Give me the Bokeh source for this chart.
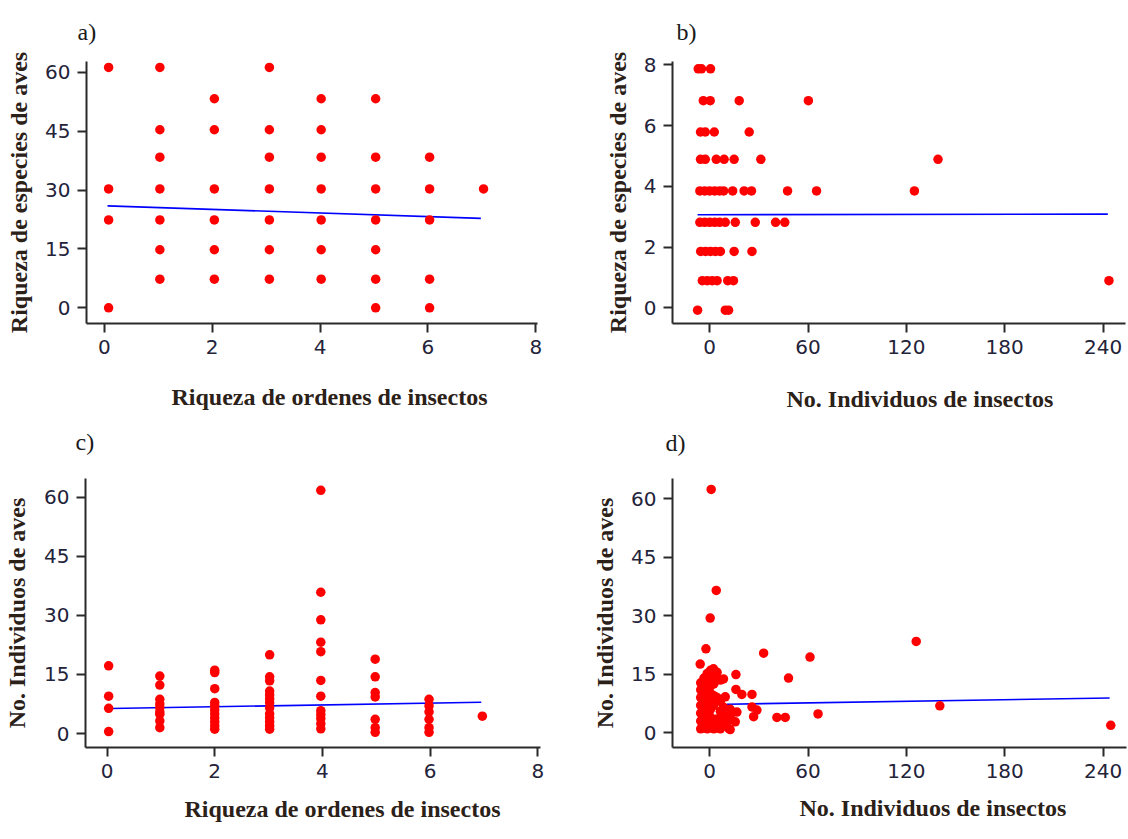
from bokeh.plotting import figure
from bokeh.layouts import column, row
from bokeh.models import Range1d, FixedTicker, Title
from bokeh.embed import file_html
from bokeh.resources import INLINE

# ---------------- data ----------------
# a) Riqueza de especies de aves vs Riqueza de ordenes de insectos
a_x = [0.08, 0.08, 0.08, 0.08,
       1.03, 1.03, 1.03, 1.03, 1.03, 1.03, 1.03,
       2.04, 2.04, 2.04, 2.04, 2.04, 2.04,
       3.06, 3.06, 3.06, 3.06, 3.06, 3.06, 3.06,
       4.02, 4.02, 4.02, 4.02, 4.02, 4.02, 4.02,
       5.03, 5.03, 5.03, 5.03, 5.03, 5.03, 5.03,
       6.03, 6.03, 6.03, 6.03, 6.03,
       7.03]
a_y = [61.3, 30.3, 22.4, 0.0,
       61.3, 45.4, 38.4, 30.3, 22.4, 14.8, 7.3,
       53.3, 45.4, 30.3, 22.4, 14.8, 7.3,
       61.3, 45.4, 38.4, 30.3, 22.4, 14.8, 7.3,
       53.3, 45.4, 38.4, 30.3, 22.4, 14.8, 7.3,
       53.3, 38.4, 30.3, 22.4, 14.8, 7.3, 0.0,
       38.4, 30.3, 22.4, 7.3, 0.0,
       30.3]
a_fit_x = [0.06, 6.98]
a_fit_y = [26.0, 22.8]

# b) Riqueza de especies de aves vs No. Individuos de insectos
b_x = [-7.0, -5.0, 0.5,
       -3.9, 0.3, 18.0, 60.2,
       -5.6, -2.7, 2.8, 24.1,
       -5.6, -2.7, 4.0, 8.8, 14.9, 31.2, 139.3,
       -6.0, -3.0, 0.0, 3.0, 6.0, 8.5, 14.0, 21.0, 25.5, 47.5, 65.2, 124.9,
       -6.0, -3.0, 0.0, 3.0, 6.0, 9.5, 15.6, 27.8, 40.2, 45.8,
       -5.5, -2.5, 0.5, 3.5, 6.5, 14.9, 25.8,
       -4.5, -1.5, 1.5, 4.5, 11.0, 14.5, 243.6,
       -7.4, 9.5, 11.5]
b_y = [7.87, 7.87, 7.87,
       6.82, 6.82, 6.82, 6.82,
       5.79, 5.79, 5.79, 5.79,
       4.89, 4.89, 4.89, 4.89, 4.89, 4.89, 4.89,
       3.85, 3.85, 3.85, 3.85, 3.85, 3.85, 3.85, 3.85, 3.85, 3.85, 3.85, 3.85,
       2.82, 2.82, 2.82, 2.82, 2.82, 2.82, 2.82, 2.82, 2.82, 2.82,
       1.86, 1.86, 1.86, 1.86, 1.86, 1.86, 1.86,
       0.90, 0.90, 0.90, 0.90, 0.90, 0.90, 0.90,
       -0.07, -0.07, -0.07]
b_fit_x = [-7.4, 242.9]
b_fit_y = [3.07, 3.09]

# c) No. Individuos de aves vs Riqueza de ordenes de insectos
c_x = [0.03, 0.03, 0.03, 0.03,
       0.98, 0.98, 0.98, 0.98, 0.98, 0.98, 0.98, 0.98, 0.98,
       2.0, 2.0, 2.0, 2.0, 2.0, 2.0, 2.0, 2.0, 2.0, 2.0, 2.0,
       3.02, 3.02, 3.02, 3.02, 3.02, 3.02, 3.02, 3.02, 3.02, 3.02, 3.02, 3.02, 3.02,
       3.97, 3.97, 3.97, 3.97, 3.97, 3.97, 3.97, 3.97, 3.97, 3.97, 3.97, 3.97,
       4.98, 4.98, 4.98, 4.98, 4.98, 4.98, 4.98,
       5.98, 5.98, 5.98, 5.98, 5.98, 5.98,
       6.97]
c_y = [17.2, 9.5, 6.4, 0.5,
       14.6, 12.3, 8.7, 7.5, 6.6, 5.5, 4.9, 3.2, 1.5,
       16.1, 15.5, 11.4, 7.9, 7.0, 6.0, 5.0, 4.0, 3.0, 2.0, 1.1,
       20.0, 14.4, 13.4, 10.8, 9.8, 8.8, 7.8, 6.5, 5.0, 4.0, 3.0, 2.0, 1.1,
       61.8, 35.9, 28.9, 23.2, 20.8, 13.5, 9.5, 5.8, 4.8, 3.8, 2.5, 1.2,
       18.9, 14.4, 10.4, 9.3, 3.6, 1.5, 0.3,
       8.7, 7.0, 5.5, 3.6, 1.5, 0.3,
       4.4]
c_fit_x = [0.06, 6.95]
c_fit_y = [6.35, 7.95]

# d) No. Individuos de aves vs No. Individuos de insectos
d_x = [0.9, 4.0, 0.3, -2.3, -5.8, 2.3, 8.4, 16.0, 32.9, 16.0, 19.6, 25.8, 25.8,
       28.8, 26.8, 16.6, 15.6, 11.5, 10.5, 9.5, 41.0, 46.1, 48.1, 61.2, 66.1,
       126.0, 140.4, 244.7,
       -5.5, -5.5, -5.5, -5.5, -5.5, -5.5, -5.5,
       -3.5, -3.5, -3.5, -3.5, -3.5, -3.5, -3.5,
       -1.5, -1.5, -1.5, -1.5, -1.5, -1.5, -1.5, -1.5,
       0.5, 0.5, 0.5, 0.5, 0.5, 0.5, 0.5, 0.5,
       2.5, 2.5, 2.5, 2.5, 2.5, 2.5,
       4.5, 4.5, 4.5, 4.5,
       6.5, 6.5, 6.5, 6.5, 6.5,
       8.5, 8.5, 8.5,
       12.5, 12.5, 12.5]
d_y = [62.4, 36.5, 29.4, 21.5, 17.6, 16.4, 13.8, 14.9, 20.4, 11.1, 9.8, 9.8, 6.6,
       5.8, 4.1, 5.3, 2.8, 1.1, 2.8, 9.2, 3.9, 3.9, 14.0, 19.4, 4.8,
       23.4, 6.9, 1.9,
       1.0, 3.0, 5.0, 7.0, 9.0, 11.0, 12.8,
       2.0, 4.0, 6.0, 8.0, 10.0, 12.0, 14.0,
       1.0, 3.0, 5.0, 7.0, 9.0, 11.0, 13.0, 15.2,
       2.0, 4.0, 6.0, 8.0, 10.0, 12.0, 14.0, 16.0,
       1.0, 3.0, 7.0, 9.5, 12.5, 14.5,
       1.5, 3.5, 9.0, 15.5,
       1.0, 3.0, 5.5, 8.0, 13.5,
       2.0, 4.5, 6.5,
       0.8, 4.0, 6.0]
d_fit_x = [10.5, 244.0]
d_fit_y = [7.3, 8.9]

ticks_rich = [0, 2, 4, 6, 8]
ticks_ind = [0, 60, 120, 180, 240]
ticks_60 = [0, 15, 30, 45, 60]
ticks_8 = [0, 2, 4, 6, 8]

lab_rich_ord = "Riqueza de ordenes de insectos"
lab_ind_ins = "No. Individuos de insectos"
lab_rich_aves = "Riqueza de especies de aves"
lab_ind_aves = "No. Individuos de aves"

SERIF = "Liberation Serif"
SANS = "DejaVu Sans"
AXC = "#2a2a2a"
TITC = "#2b2118"


def letter_title(text, offset, standoff, valign):
    return Title(text=text, align="left", offset=offset, standoff=standoff,
                 vertical_align=valign, text_font=SERIF, text_font_style="normal",
                 text_font_size="24px", text_color="#1a1a1a")


def panel(w, h, bl, br, bt, bb, xr, yr, xt, yt, xl, yl, xs, ys, fx, fy,
          xl_off, xl_stand, yl_stand, top_letter=None, below_letter=None):
    p = figure(width=w, height=h, output_backend="svg", toolbar_location=None,
               x_range=Range1d(*xr), y_range=Range1d(*yr),
               min_border_left=bl, min_border_right=br,
               min_border_top=bt, min_border_bottom=bb)
    p.outline_line_color = None
    p.xgrid.visible = False
    p.ygrid.visible = False
    p.background_fill_color = "white"
    p.border_fill_color = "white"

    for ax, ticks in ((p.xaxis[0], xt), (p.yaxis[0], yt)):
        ax.ticker = FixedTicker(ticks=ticks)
        ax.minor_tick_line_color = None
        ax.major_tick_in = 0
        ax.major_tick_out = 9
        ax.major_tick_line_width = 2
        ax.major_tick_line_color = AXC
        ax.axis_line_width = 2
        ax.axis_line_color = AXC
        ax.major_label_text_font = SANS
        ax.major_label_text_font_size = "20px"
        ax.major_label_text_color = "#23233a"
        ax.major_label_standoff = 7

    ya = p.yaxis[0]
    ya.axis_label = yl
    ya.axis_label_text_font = SERIF
    ya.axis_label_text_font_style = "bold"
    ya.axis_label_text_font_size = "24px"
    ya.axis_label_text_color = TITC
    ya.axis_label_standoff = yl_stand

    if top_letter is not None:
        p.add_layout(letter_title(*top_letter, "bottom"), "above")

    xtitle = Title(text=xl, align="left", offset=xl_off, standoff=xl_stand,
                   vertical_align="top", text_font=SERIF, text_font_style="bold",
                   text_font_size="24px", text_color=TITC)
    p.add_layout(xtitle, "below")

    if below_letter is not None:
        p.add_layout(letter_title(*below_letter, "top"), "below")

    p.line(fx, fy, line_color="#0000ff", line_width=1.6)
    p.scatter(xs, ys, size=9.5, fill_color="#ff0000", line_color=None)
    return p


pa = panel(560, 475, 86, 23, 60, 152, (-0.33, 8.03), (-4.0, 62.8),
           ticks_rich, ticks_60, lab_rich_ord, lab_rich_aves,
           a_x, a_y, a_fit_x, a_fit_y, 85, 55, 10,
           top_letter=("a)", -9, 33), below_letter=("c)", -11, -22))
pb = panel(568, 475, 112, 3, 60, 152, (-22.7, 253.7), (-0.51, 8.11),
           ticks_ind, ticks_8, lab_ind_ins, lab_rich_aves,
           b_x, b_y, b_fit_x, b_fit_y, 114, 58, 10,
           top_letter=("b)", 4, 33), below_letter=("d)", -7, -26))
pc = panel(560, 364, 85, 20, 2, 92, (-0.40, 8.05), (-3.55, 64.8),
           ticks_rich, ticks_60, lab_rich_ord, lab_ind_aves,
           c_x, c_y, c_fit_x, c_fit_y, 99, 30, 11)
pd = panel(568, 364, 112, 2, 3, 90, (-22.7, 254.3), (-3.8, 65.2),
           ticks_ind, ticks_60, lab_ind_ins, lab_ind_aves,
           d_x, d_y, d_fit_x, d_fit_y, 127, 28, 10)

layout = column(row(pa, pb), row(pc, pd))
open("out.html", "w").write(file_html(layout, INLINE))
